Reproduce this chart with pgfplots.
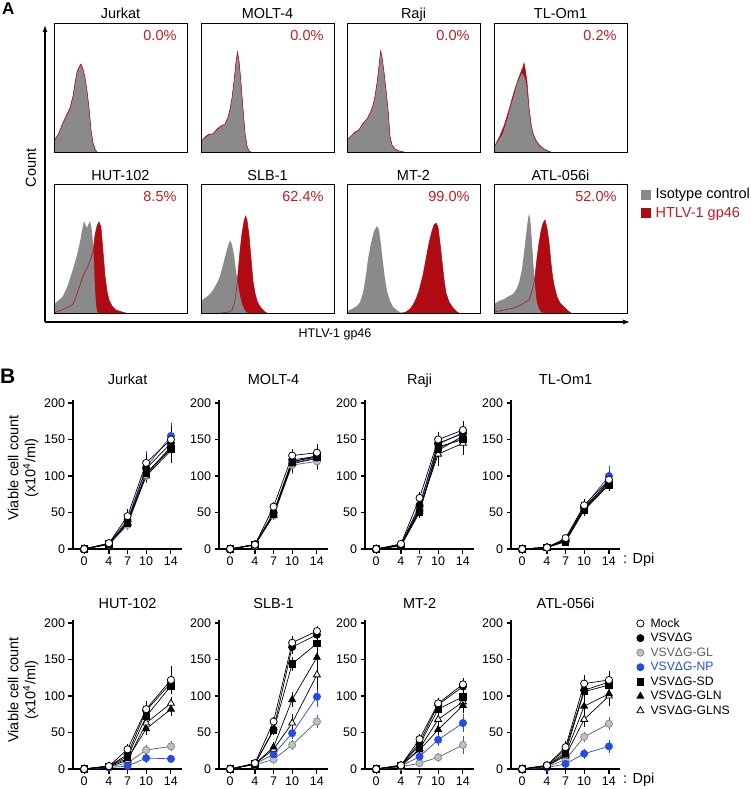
\documentclass[border=0pt]{standalone}
\usepackage{fontspec}
\setmainfont{Liberation Sans}
\usepackage{pgfplots}
\pgfplotsset{compat=1.18}
\usepackage{pgfplotstable}
\usetikzlibrary{arrows.meta}

\definecolor{hgray}{RGB}{138,138,138}
\definecolor{hred}{RGB}{176,10,18}
\definecolor{hredtext}{RGB}{195,28,35}
\definecolor{npblue}{RGB}{35,75,230}
\definecolor{glfill}{RGB}{192,192,192}
\definecolor{gldraw}{RGB}{140,140,140}
\definecolor{glline}{RGB}{90,90,90}
\definecolor{gltext}{RGB}{95,95,95}

\newcommand{\tf}{\fontsize{14.5}{17}\selectfont}
\newcommand{\lf}{\fontsize{12.2}{14}\selectfont}

\pgfplotsset{
 histax/.style={width=133pt,height=129pt,scale only axis,anchor=south west,
   xmin=0,xmax=133,ymin=0,ymax=129,xtick=\empty,ytick=\empty,
   axis line style={line width=0.9pt},clip=false,axis on top},
 growax/.style={width=109.1pt,height=148.9pt,scale only axis,anchor=south west,
   xmin=-1.8,xmax=15.8,ymin=0,ymax=204,axis lines=left,
   axis line style={-,line width=1.1pt},
   xtick={0,4,7,10,14},ytick={0,50,100,150,200},
   tick align=outside,major tick length=4.5pt,
   tick style={line width=1.1pt,black},
   tick label style={font=\fontsize{12.5}{14}\selectfont},
   /pgf/number format/assume math mode=true,
   clip=false},
 mockst/.style={black,line width=0.7pt,mark=*,mark size=3.6pt,mark options={solid,fill=white,draw=black,line width=0.8pt}},
 vsvst/.style={black,line width=0.7pt,mark=*,mark size=3.6pt,mark options={solid,fill=black,draw=black}},
 glst/.style={glline,line width=0.7pt,mark=*,mark size=3.6pt,mark options={solid,fill=glfill,draw=gldraw,line width=0.8pt}},
 npst/.style={npblue,line width=0.7pt,mark=*,mark size=3.6pt,mark options={solid,fill=npblue,draw=npblue}},
 sdst/.style={black,line width=0.7pt,mark=square*,mark size=3.2pt,mark options={solid,fill=black,draw=black}},
 glnst/.style={black,line width=0.7pt,mark=triangle*,mark size=4pt,mark options={solid,fill=black,draw=black}},
 glnsst/.style={black,line width=0.7pt,mark=triangle*,mark size=4pt,mark options={solid,fill=white,draw=black,line width=0.8pt}},
 ebar/.style={error bars/.cd,y dir=both,y explicit,error mark options={mark size=2.8pt,line width=0.7pt},error bar style={line width=0.7pt},/pgfplots/.cd},
}

% growth tables: day, value, error for each series
\pgfplotstableread{
day mock em vsv ev gl eg np en sd es gln egn glns egs
0 0 0 0 0 0 0 0 0 0 0 0 0 0 0
4 8 1 7 1 6 1 8 1 7 1 7 1 7 1
7 45 6 38 4 33 3 40 4 36 3 35 3 37 4
10 118 8 110 8 100 6 112 18 104 7 103 6 100 5
14 150 15 145 12 140 10 155 14 137 8 140 10 135 14
}\tJurkat
\pgfplotstableread{
day mock em vsv ev gl eg np en sd es gln egn glns egs
0 0 0 0 0 0 0 0 0 0 0 0 0 0 0
4 6 1 6 1 5 1 6 1 6 1 6 1 6 1
7 58 3 50 3 46 3 48 3 49 3 48 3 46 3
10 128 5 122 5 115 8 118 5 120 5 119 5 117 8
14 132 8 127 8 120 8 125 8 126 8 128 8 124 10
}\tMolt
\pgfplotstableread{
day mock em vsv ev gl eg np en sd es gln egn glns egs
0 0 0 0 0 0 0 0 0 0 0 0 0 0 0
4 7 1 6 1 5 1 6 1 4 1 5 1 5 1
7 70 4 60 4 55 4 58 4 50 4 52 4 55 4
10 150 7 145 5 138 7 143 5 140 5 135 8 130 12
14 163 8 158 8 152 8 160 8 150 8 155 8 145 12
}\tRaji
\pgfplotstableread{
day mock em vsv ev gl eg np en sd es gln egn glns egs
0 0 0 0 0 0 0 0 0 0 0 0 0 0 0
4 2 1 2 1 2 1 2 1 2 1 2 1 2 1
7 15 2 12 2 11 2 13 2 10 2 12 2 13 2
10 60 5 57 5 55 4 58 5 53 4 56 5 54 4
14 95 8 92 6 90 6 100 10 88 5 93 6 90 6
}\tTLOm
\pgfplotstableread{
day mock em vsv ev gl eg np en sd es gln egn glns egs
0 0 0 0 0 0 0 0 0 0 0 0 0 0 0
4 4 1 4 1 3 1 2 1 4 1 4 1 3 1
7 27 4 20 3 8 2 4 1 17 3 14 2 12 2
10 82 8 80 6 26 3 15 3 72 6 55 5 63 5
14 122 15 118 12 31 3 14 2 114 8 82 5 90 5
}\tHut
\pgfplotstableread{
day mock em vsv ev gl eg np en sd es gln egn glns egs
0 0 0 0 0 0 0 0 0 0 0 0 0 0 0
4 8 1 7 1 6 1 7 1 7 1 7 1 7 1
7 65 3 54 3 13 2 20 2 53 3 30 3 27 3
10 173 5 167 5 33 3 49 4 144 6 95 6 63 8
14 189 3 184 5 65 5 99 10 172 8 153 10 129 15
}\tSlb
\pgfplotstableread{
day mock em vsv ev gl eg np en sd es gln egn glns egs
0 0 0 0 0 0 0 0 0 0 0 0 0 0 0
4 5 1 5 1 3 1 4 1 5 1 5 1 4 1
7 41 3 36 3 8 2 17 2 33 3 26 3 28 3
10 90 4 88 4 16 2 40 4 82 4 54 4 68 4
14 116 5 113 5 33 8 63 8 99 6 87 6 92 8
}\tMt
\pgfplotstableread{
day mock em vsv ev gl eg np en sd es gln egn glns egs
0 0 0 0 0 0 0 0 0 0 0 0 0 0 0
4 5 1 5 1 3 1 2 1 4 1 4 1 4 1
7 30 4 27 3 13 2 7 2 23 3 20 3 18 3
10 117 8 108 6 44 3 21 3 106 6 86 6 68 6
14 122 8 119 8 62 5 31 5 115 8 103 8 100 10
}\tAtl

% histogram panel: #1 left, #2 bottom (px), #3 title, #4 percent, #5 red, #6 gray, #7 extra
\newcommand{\hist}[7]{%
\begin{axis}[histax,at={(#1pt,-#2pt)}]
\addplot[fill=hred,draw=none,forget plot] coordinates {#5} \closedcycle;
\addplot[fill=hgray,draw=none,forget plot] coordinates {#6} \closedcycle;
\addplot[hred,line width=0.5pt,forget plot] coordinates {#5};
\node[anchor=base,font=\tf,yshift=4pt] at (rel axis cs:0.5,1) {#3};
\node[anchor=base east,font=\tf,text=hredtext,xshift=-7pt,yshift=-17.5pt] at (rel axis cs:1,1) {#4};
#7
\end{axis}}

% growth panel: #1 y-axis x, #2 x-axis y (px), #3 table, #4 title, #5 title shift, #6 extra
\newcommand{\growth}[6]{%
\begin{axis}[growax,at={(#1pt,-#2pt)}]
\addplot[forget plot,glst,ebar] table[x=day,y=gl,y error=eg]{#3};
\addplot[forget plot,npst,ebar] table[x=day,y=np,y error=en]{#3};
\addplot[forget plot,glnsst,ebar] table[x=day,y=glns,y error=egs]{#3};
\addplot[forget plot,glnst,ebar] table[x=day,y=gln,y error=egn]{#3};
\addplot[forget plot,sdst,ebar] table[x=day,y=sd,y error=es]{#3};
\addplot[forget plot,vsvst,ebar] table[x=day,y=vsv,y error=ev]{#3};
\addplot[forget plot,mockst,ebar] table[x=day,y=mock,y error=em]{#3};
\node[anchor=base,font=\tf,yshift=#5pt] at (rel axis cs:0.5,1) {#4};
#6
\end{axis}}

\begin{document}
\begin{tikzpicture}
\useasboundingbox (0,0) rectangle (750pt,-789pt);

% ---------- Panel A ----------
\node[anchor=base west,font=\fontsize{17}{18}\selectfont\bfseries,inner sep=0pt] at (2pt,-15pt) {A};

\hist{54}{152}{Jurkat}{0.0\%}
{(0,11)(4,17)(8,27)(12,36)(16,44)(19,56)(21,69)(23,80)(25,85)(27,88)(29,83)(31,74)(33,61)(35,44)(37,22)(39,9)(41,3)(43,0)}
{(0,12)(4,18)(8,26)(12,35)(16,43)(19,55)(21,68)(23,79)(25,84)(27,87)(29,82)(31,75)(33,62)(35,45)(37,23)(39,10)(41,3)(43,0)}{}

\hist{201}{152}{MOLT-4}{0.0\%}
{(0,10)(4,15)(8,18)(12,18)(16,23)(20,26)(24,28)(27,35)(29,43)(31,54)(33,71)(35,90)(36.5,100)(38,91)(40,69)(42,43)(44,19)(46,6)(48,1)(50,0)}
{(0,11)(4,14)(8,17)(12,19)(16,22)(20,25)(24,28)(27,34)(29,42)(31,53)(33,70)(35,90)(36.5,101)(38,92)(40,70)(42,44)(44,20)(46,6)(48,1)(50,0)}{}

\hist{347}{152}{Raji}{0.0\%}
{(0,12)(4,16)(8,20)(12,22)(16,29)(20,33)(24,41)(26,47)(28,56)(30,69)(32,86)(33.7,101)(35,95)(37,80)(39,62)(41,43)(43,16)(45,7)(48,3)(52,1)(57,0)}
{(0,13)(4,16)(8,19)(12,23)(16,28)(20,33)(24,40)(26,46)(28,55)(30,68)(32,85)(33.7,102)(35,96)(37,80)(39,62)(41,43)(43,15)(45,7)(48,3)(52,1)(56,0)}{}

\hist{494}{152}{TL-Om1}{0.2\%}
{(0,5)(5,14)(10,26)(15,42)(20,60)(24,72)(27,80)(29,85)(30,89)(31,84)(33,70)(35,45)(37,28)(39,18)(42,11)(46,6)(50,3)(54,1)(57,0)}
{(0,6)(5,12)(9,19)(13,32)(16,43)(20,57)(23,68)(26,75)(28,79)(30,76)(32,70)(34,52)(36,37)(38,24)(40,17)(44,9)(48,5)(52,2)(56,0)}{}

\hist{54}{313}{HUT-102}{8.5\%}
{(0,0)(5,2)(10,4)(15,6)(19,9)(22,16)(25,25)(29,37)(33,45)(36,52)(39,61)(41,78)(43,87)(45,91)(47,86)(49,62)(51,37)(53,22)(55,13)(58,7)(62,3)(68,1)(72,0)}
{(0,9)(5,13)(9,17)(14,28)(19,44)(23,58)(26,71)(28,82)(30,92)(31.5,88)(33,85)(34.5,89)(36,92)(37.5,85)(39,70)(40,50)(41,25)(42,8)(43,2)(44,0)}{}

\hist{201}{313}{SLB-1}{62.4\%}
{(20,0)(28,1)(31,3)(33,8)(35,20)(37,40)(39,62)(41,80)(43,92)(44.7,97)(46,93)(48,78)(50,55)(52,32)(54,20)(56,12)(58,8)(61,4)(64,1)(66,0)}
{(0,12)(4,15)(8,18)(12,23)(16,30)(19,37)(22,48)(25,60)(27,67)(29,73)(31,68)(33,58)(35,42)(37,28)(39,17)(41,9)(43,4)(45,1)(47,0)}{}

\hist{347}{313}{MT-2}{99.0\%}
{(55,0)(59,1)(63,4)(66,8)(69,14)(72,22)(76,38)(79,54)(82,70)(85,82)(87,88)(89,90)(91,86)(93,70)(95,52)(97,34)(99,20)(102,11)(106,5)(110,1)(112,0)}
{(0,2)(5,4)(10,7)(13,11)(16,20)(19,38)(21,54)(24,70)(27,82)(30,87)(32,83)(34,68)(36,50)(38,34)(40,22)(43,12)(46,6)(51,2)(55,0)}{}

\hist{494}{313}{ATL-056i}{52.0\%}
{(0,1)(5,2)(10,3)(15,4)(20,5)(25,7)(30,10)(35,13)(38,22)(40,31)(41,37)(43,55)(45,70)(47,82)(49,90)(51,93)(53,85)(55,71)(57,50)(58.5,37)(60,28)(63,16)(66,10)(70,6)(73,3)(77,0)}
{(0,9)(5,12)(10,14)(15,17)(19,19)(22,23)(25,30)(28,44)(30,60)(32,78)(34,94)(35,99)(36,95)(37,85)(38,70)(39,55)(40,40)(41,28)(42,17)(43,10)(45,4)(47,1)(49,0)}
{\pgfplotsset{legend cell align=left,legend style={at={(1,1)},anchor=north west,xshift=14pt,yshift=-2pt,draw=none,fill=none,inner sep=0pt,font=\tf,row sep=3pt,/tikz/every odd column/.append style={column sep=3pt}}}
\addlegendimage{legend image code/.code={\fill[hgray] (0pt,-4.5pt) rectangle (9pt,4.5pt);}}
\addlegendentry{Isotype control}
\addlegendimage{legend image code/.code={\fill[hred] (0pt,-4.5pt) rectangle (9pt,4.5pt);}}
\addlegendentry{\textcolor{hredtext}{HTLV-1 gp46}}}

% axes arrows of panel A
\draw[line width=1.2pt,-{Latex[length=7pt,width=5pt]}] (45pt,-322pt) -- (45pt,-25pt);
\draw[line width=1.2pt,-{Latex[length=7pt,width=5pt]}] (45pt,-322pt) -- (630pt,-322pt);
\node[rotate=90,font=\tf,anchor=center] at (31pt,-168pt) {Count};
\node[font=\fontsize{12.5}{14}\selectfont,anchor=base] at (335pt,-337pt) {HTLV-1 gp46};

% ---------- Panel B ----------
\node[anchor=base west,font=\fontsize{21}{22}\selectfont\bfseries,inner sep=0pt] at (0pt,-383pt) {B};

\growth{73}{549}{\tJurkat}{Jurkat}{16}{}
\growth{219}{549}{\tMolt}{MOLT-4}{16}{}
\growth{365}{549}{\tRaji}{Raji}{16}{}
\growth{511}{549}{\tTLOm}{TL-Om1}{16}{}
\growth{73}{769}{\tHut}{HUT-102}{12}{}
\growth{219}{769}{\tSlb}{SLB-1}{12}{}
\growth{365}{769}{\tMt}{MT-2}{12}{}
\growth{511}{769}{\tAtl}{ATL-056i}{12}{%
\pgfplotsset{legend cell align=left,legend style={at={(1,1)},anchor=north west,xshift=16.5pt,yshift=4pt,draw=none,fill=none,inner sep=0pt,font=\lf,row sep=0.5pt,/tikz/every odd column/.append style={column sep=4.5pt}}}
\addlegendimage{mockst,only marks}\addlegendentry{Mock}
\addlegendimage{vsvst,only marks}\addlegendentry{VSVΔG}
\addlegendimage{glst,only marks}\addlegendentry{\textcolor{gltext}{VSVΔG-GL}}
\addlegendimage{npst,only marks}\addlegendentry{\textcolor{npblue}{VSVΔG-NP}}
\addlegendimage{sdst,only marks}\addlegendentry{VSVΔG-SD}
\addlegendimage{glnst,only marks}\addlegendentry{VSVΔG-GLN}
\addlegendimage{glnsst,only marks}\addlegendentry{VSVΔG-GLNS}}

\node[anchor=base west,font=\tf,inner sep=0pt] at (623pt,-563pt) {: Dpi};
\node[anchor=base west,font=\tf,inner sep=0pt] at (623pt,-783pt) {: Dpi};

\node[rotate=90,font=\tf,align=center,anchor=center] at (23pt,-468pt) {Viable cell count\\(x10\textsuperscript{4}/ml)};
\node[rotate=90,font=\tf,align=center,anchor=center] at (23pt,-690pt) {Viable cell count\\(x10\textsuperscript{4}/ml)};
\end{tikzpicture}
\end{document}
